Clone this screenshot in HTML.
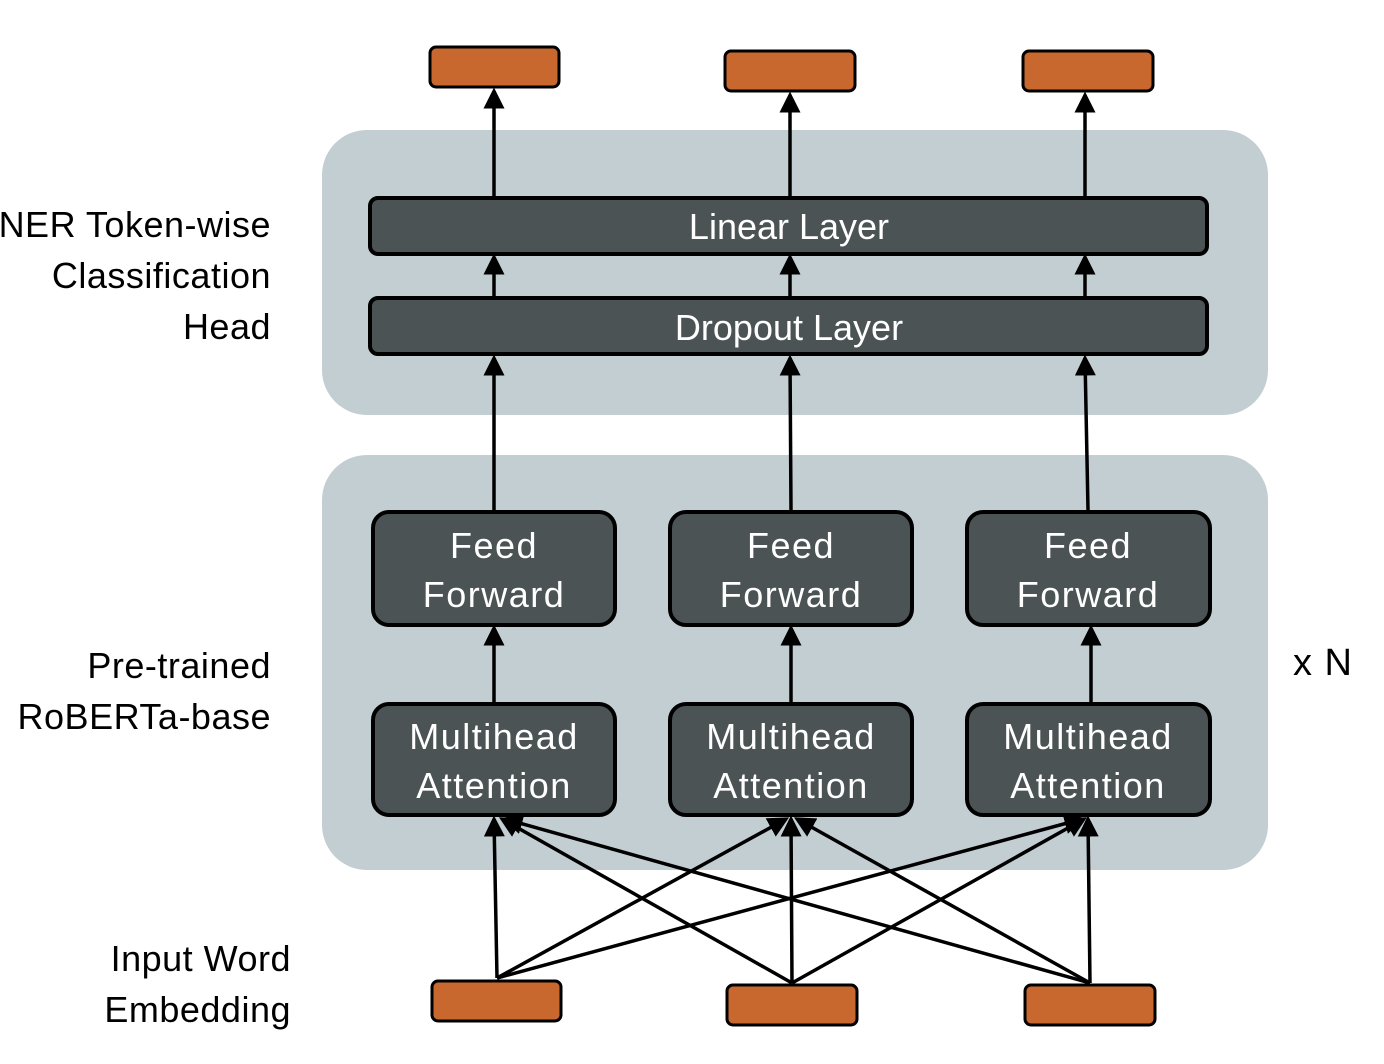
<!DOCTYPE html>
<html><head><meta charset="utf-8"><style>html,body{margin:0;padding:0;background:#fff}svg{display:block}</style></head>
<body>
<svg width="1384" height="1064" viewBox="0 0 1384 1064" xmlns="http://www.w3.org/2000/svg" font-family="Liberation Sans, DejaVu Sans, sans-serif">
<defs>
<marker id="a" markerWidth="6" markerHeight="6" refX="5" refY="3" orient="auto" markerUnits="strokeWidth">
<path d="M0,0 L6,3 L0,6 z" fill="#000"/></marker>
</defs>
<rect x="322" y="130" width="946" height="285" rx="45" fill="#C3CED3"/>
<rect x="322" y="455" width="946" height="415" rx="45" fill="#C3CED3"/>
<g fill="#C8682F" stroke="#000" stroke-width="3">
<rect x="430" y="47" width="129" height="40" rx="6"/>
<rect x="725" y="51" width="130" height="40" rx="6"/>
<rect x="1023" y="51" width="130" height="40" rx="6"/>
<rect x="432" y="981" width="129" height="40" rx="6"/>
<rect x="727" y="985" width="130" height="40" rx="6"/>
<rect x="1025" y="985" width="130" height="40" rx="6"/>
</g>
<g fill="#4B5355" stroke="#000" stroke-width="4">
<rect x="370" y="198" width="837" height="56" rx="8"/>
<rect x="370" y="298" width="837" height="56" rx="8"/>
<rect x="373" y="512" width="242" height="113" rx="16"/>
<rect x="670" y="512" width="242" height="113" rx="16"/>
<rect x="967" y="512" width="243" height="113" rx="16"/>
<rect x="373" y="704" width="242" height="111" rx="16"/>
<rect x="670" y="704" width="242" height="111" rx="16"/>
<rect x="967" y="704" width="243" height="111" rx="16"/>
</g>
<g stroke="#000" stroke-width="3.5" marker-end="url(#a)" fill="none">
<line x1="494" y1="196" x2="494" y2="91"/>
<line x1="790" y1="196" x2="790" y2="95"/>
<line x1="1085" y1="196" x2="1085" y2="95"/>
<line x1="494" y1="296" x2="494" y2="257"/>
<line x1="790" y1="296" x2="790" y2="257"/>
<line x1="1085" y1="296" x2="1085" y2="257"/>
<line x1="494" y1="510" x2="494" y2="358"/>
<line x1="791" y1="510" x2="790" y2="358"/>
<line x1="1088" y1="510" x2="1085" y2="358"/>
<line x1="494" y1="702" x2="494" y2="628"/>
<line x1="791" y1="702" x2="791" y2="628"/>
<line x1="1091" y1="702" x2="1091" y2="628"/>
<line x1="497" y1="978" x2="494" y2="819"/>
<line x1="497" y1="978" x2="786" y2="819"/>
<line x1="497" y1="978" x2="1082" y2="819"/>
<line x1="792" y1="983" x2="502" y2="819"/>
<line x1="792" y1="983" x2="791" y2="819"/>
<line x1="792" y1="983" x2="1084" y2="819"/>
<line x1="1090" y1="983" x2="505" y2="819"/>
<line x1="1090" y1="983" x2="797" y2="819"/>
<line x1="1090" y1="983" x2="1088" y2="819"/>
</g>
<g fill="#fff" font-size="36" text-anchor="middle">
<text x="789" y="239">Linear Layer</text>
<text x="789" y="340">Dropout Layer</text>
<g letter-spacing="1.5">
<text x="494" y="558">Feed</text><text x="494" y="607">Forward</text>
<text x="791" y="558">Feed</text><text x="791" y="607">Forward</text>
<text x="1088" y="558">Feed</text><text x="1088" y="607">Forward</text>
<text x="494" y="749">Multihead</text><text x="494" y="798">Attention</text>
<text x="791" y="749">Multihead</text><text x="791" y="798">Attention</text>
<text x="1088" y="749">Multihead</text><text x="1088" y="798">Attention</text>
</g>
</g>
<g fill="#000" font-size="36" text-anchor="end" letter-spacing="0.5">
<text x="271" y="237">NER Token-wise</text>
<text x="271" y="288">Classification</text>
<text x="271" y="339">Head</text>
<text x="271" y="678">Pre-trained</text>
<text x="271" y="729">RoBERTa-base</text>
<text x="291" y="971">Input Word</text>
<text x="291" y="1022">Embedding</text>
</g>
<text x="1293" y="675" font-size="38" fill="#000" letter-spacing="1">x N</text>
</svg>
</body></html>
